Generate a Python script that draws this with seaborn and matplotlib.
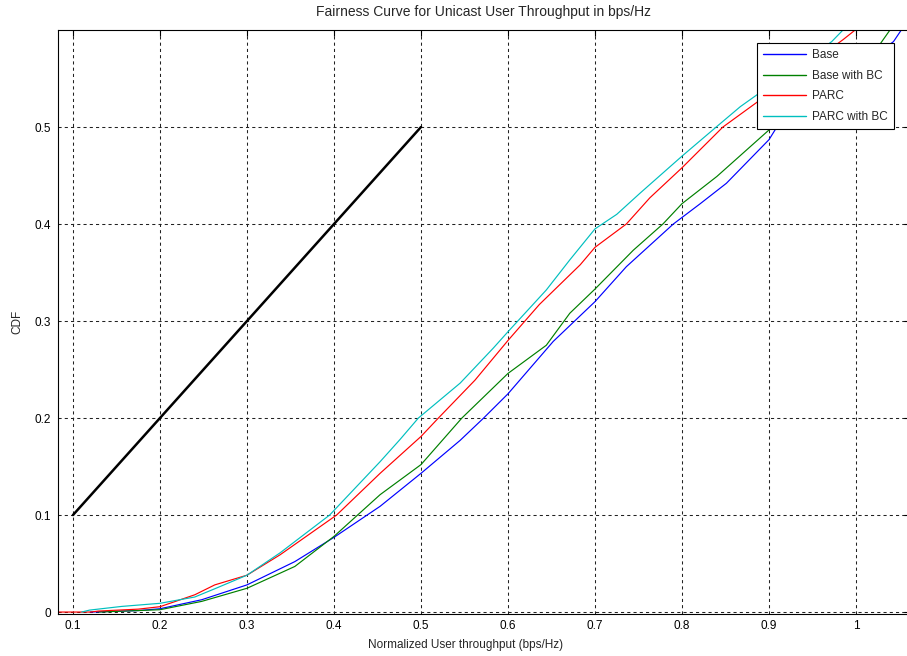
import matplotlib
matplotlib.use("Agg")
import matplotlib.pyplot as plt
import seaborn as sns
import pandas as pd

# ---- data ----
base_x = [0.12, 0.175, 0.2, 0.248, 0.3, 0.355, 0.4, 0.453, 0.5, 0.545, 0.572, 0.6,
          0.652, 0.7, 0.736, 0.79, 0.821, 0.851, 0.9, 0.909, 1.043, 1.052]
base_y = [0.0, 0.0015, 0.0034, 0.0127, 0.028, 0.052, 0.077, 0.109, 0.143, 0.177, 0.2, 0.225,
          0.279, 0.32, 0.356, 0.4, 0.421, 0.442, 0.487, 0.5, 0.588, 0.6]

basebc_x = [0.13, 0.2, 0.248, 0.3, 0.355, 0.4, 0.453, 0.5, 0.547, 0.6, 0.644, 0.671,
            0.7, 0.744, 0.778, 0.8, 0.84, 0.9, 1.028, 1.039]
basebc_y = [0.0, 0.0024, 0.011, 0.0245, 0.047, 0.078, 0.121, 0.152, 0.2, 0.246, 0.275, 0.308,
            0.333, 0.373, 0.4, 0.421, 0.449, 0.497, 0.586, 0.6]

parc_x = [0.083, 0.12, 0.129, 0.175, 0.2, 0.24, 0.263, 0.3, 0.338, 0.403, 0.453, 0.5, 0.52,
          0.562, 0.6, 0.636, 0.683, 0.7, 0.736, 0.763, 0.8, 0.847, 0.985, 0.999]
parc_y = [0.0, 0.0, 0.001, 0.003, 0.0055, 0.0178, 0.028, 0.038, 0.059, 0.1, 0.143, 0.181, 0.2,
          0.239, 0.28, 0.317, 0.358, 0.376, 0.4, 0.427, 0.458, 0.5, 0.59, 0.6]

parcbc_x = [0.11, 0.119, 0.156, 0.2, 0.24, 0.263, 0.3, 0.338, 0.395, 0.453, 0.476, 0.497, 0.545,
            0.583, 0.6, 0.644, 0.671, 0.7, 0.725, 0.752, 0.8, 0.838, 0.867, 0.972, 0.985]
parcbc_y = [0.0, 0.002, 0.0058, 0.009, 0.0155, 0.024, 0.038, 0.061, 0.1, 0.155, 0.178, 0.2, 0.236,
            0.272, 0.289, 0.332, 0.363, 0.395, 0.41, 0.432, 0.47, 0.499, 0.521, 0.588, 0.6]

ref_x = [0.1, 0.5]
ref_y = [0.1, 0.5]

series_names = ["Base", "Base with BC", "PARC", "PARC with BC"]
series_colors = ["#0000ff", "#008000", "#ff0000", "#00bfbf"]

x_ticks = [0.1, 0.2, 0.3, 0.4, 0.5, 0.6, 0.7, 0.8, 0.9, 1.0]
x_tick_labels = ["0.1", "0.2", "0.3", "0.4", "0.5", "0.6", "0.7", "0.8", "0.9", "1"]
y_ticks = [0, 0.1, 0.2, 0.3, 0.4, 0.5]
y_tick_labels = ["0", "0.1", "0.2", "0.3", "0.4", "0.5"]

# ---- build table ----
frames = []
for name, xs, ys in zip(series_names,
                        [base_x, basebc_x, parc_x, parcbc_x],
                        [base_y, basebc_y, parc_y, parcbc_y]):
    frames.append(pd.DataFrame({"x": xs, "cdf": ys, "series": name}))
df = pd.concat(frames, ignore_index=True)
ref_df = pd.DataFrame({"x": ref_x, "cdf": ref_y})

# ---- style ----
sns.set_style("white")
plt.rcParams["font.family"] = ["Liberation Sans", "DejaVu Sans"]
FS = 8.5

fig = plt.figure(figsize=(9.07, 6.56), dpi=100)
ax = fig.add_axes([58 / 907, (656 - 613.5) / 656, 852 / 907, 583.5 / 656])

sns.lineplot(data=df, x="x", y="cdf", hue="series", hue_order=series_names,
             palette=dict(zip(series_names, series_colors)),
             estimator=None, sort=False, linewidth=0.85, ax=ax, legend=True)
sns.lineplot(data=ref_df, x="x", y="cdf", color="black", linewidth=1.8,
             estimator=None, sort=False, ax=ax, legend=False)

ax.set_xlim(0.0828, 1.062)
ax.set_ylim(-0.0015, 0.6)
ax.set_xticks(x_ticks)
ax.set_xticklabels(x_tick_labels)
ax.set_yticks(y_ticks)
ax.set_yticklabels(y_tick_labels)
ax.tick_params(direction="in", top=True, right=True, length=4, width=0.8,
               labelsize=FS, colors="black", pad=5)
ax.grid(True, color="#222222", linestyle=(0, (3, 3)), linewidth=0.75)
for s in ax.spines.values():
    s.set_color("black")
    s.set_linewidth(0.8)

ax.set_xlabel("")
ax.set_ylabel("CDF", fontsize=FS, labelpad=8)
fig.text(466 / 907, 1 - 645 / 656, "Normalized User throughput (bps/Hz)",
         ha="center", va="center", fontsize=FS)
fig.text(484 / 907, 1 - 12 / 656, "Fairness Curve for Unicast User Throughput in bps/Hz",
         ha="center", va="center", fontsize=10)

handles, labels = ax.get_legend_handles_labels()
leg = ax.legend(handles[:4], labels[:4], loc="upper right",
                bbox_to_anchor=(894 / 907, 1 - 43 / 656), bbox_transform=fig.transFigure,
                borderaxespad=0, fontsize=FS, frameon=True, fancybox=False,
                edgecolor="black", framealpha=1, handlelength=3.6,
                handletextpad=0.5, labelspacing=0.72, borderpad=0.55)
leg.get_frame().set_linewidth(0.8)
for h in leg.get_lines():
    h.set_linewidth(1.0)

fig.savefig("out.png", dpi=100)
